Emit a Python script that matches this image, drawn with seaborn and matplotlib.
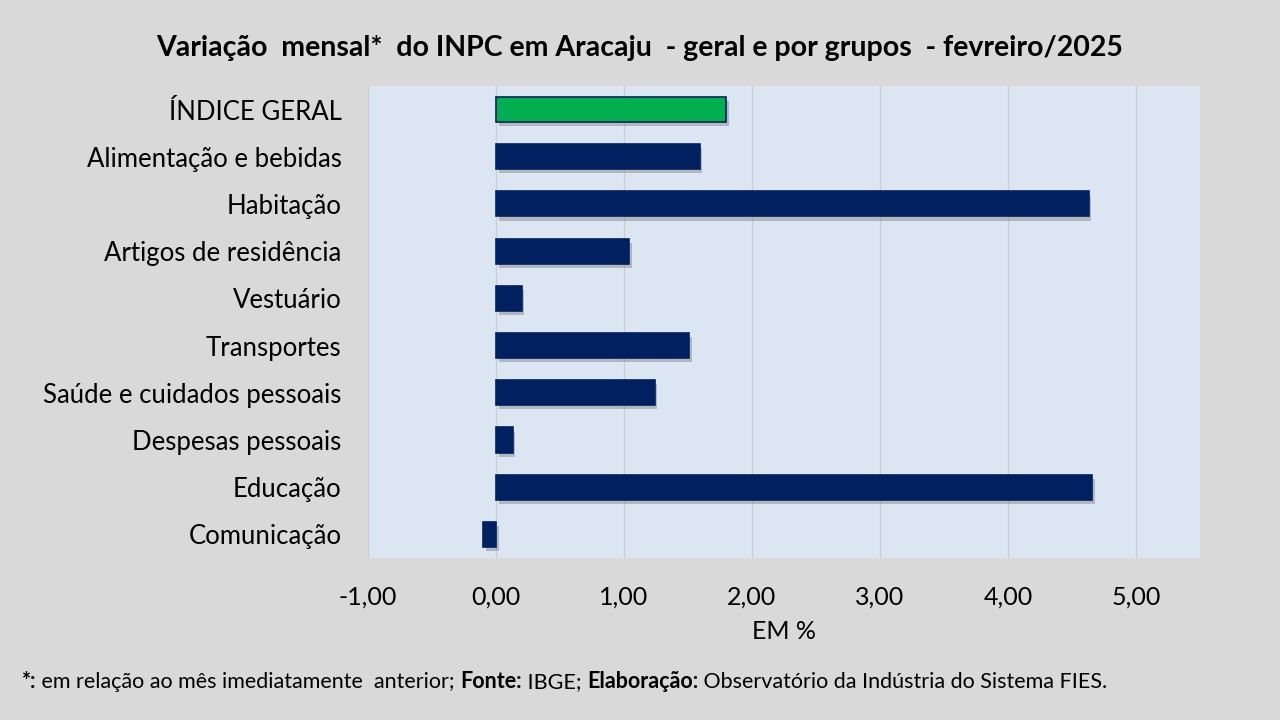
import pandas as pd
import matplotlib
matplotlib.use("Agg")
import matplotlib.pyplot as plt
import matplotlib.patheffects as pe
import seaborn as sns

# dados (variação mensal em %)
categorias = ["ÍNDICE GERAL", "Alimentação e bebidas", "Habitação", "Artigos de residência",
              "Vestuário", "Transportes", "Saúde e cuidados pessoais", "Despesas pessoais",
              "Educação", "Comunicação"]
valores = [1.80, 1.59, 4.63, 1.04, 0.20, 1.51, 1.24, 0.13, 4.66, -0.10]
tipo = ["geral"] + ["grupo"] * 9
xticks = [-1, 0, 1, 2, 3, 4, 5]

df = pd.DataFrame({"categoria": categorias, "valor": valores, "tipo": tipo})

sns.set_style("white")
plt.rcParams["font.family"] = ["Lato", "DejaVu Sans"]
plt.rcParams["text.color"] = "black"
plt.rcParams["xtick.color"] = "black"
plt.rcParams["ytick.color"] = "black"
plt.rcParams["axes.labelcolor"] = "black"

fig = plt.figure(figsize=(12.8, 7.2), dpi=100, facecolor="#d9d9d9")
ax = fig.add_axes([0.2875, 0.225, 0.65, 0.6556])
ax.set_facecolor("#dce6f2")

sns.barplot(data=df, x="valor", y="categoria", hue="tipo", orient="h",
            palette={"geral": "#00b050", "grupo": "#002060"}, width=0.53,
            saturation=1, dodge=False, legend=False, ax=ax, zorder=3)

# borda e sombra nas barras
for bar in ax.patches:
    bar.set_edgecolor("#002060")
    bar.set_linewidth(1.2)
    bar.set_path_effects([pe.SimplePatchShadow(offset=(2, -3), shadow_rgbFace="#7f7f7f", alpha=0.45),
                          pe.Normal()])

ax.set_xlim(-1, 5.5)
ax.set_ylim(9.5, -0.5)
ax.set_xticks(xticks)
ax.set_xticklabels([f"{v:.2f}".replace(".", ",") for v in xticks])
ax.tick_params(axis="y", labelsize=18.5, pad=19, length=0)
ax.tick_params(axis="x", labelsize=18, pad=20, length=0)
ax.xaxis.grid(True, color="#cdcdcd", linewidth=1.0, zorder=0)
ax.set_axisbelow(True)
for s in ax.spines.values():
    s.set_visible(False)
ax.set_ylabel("")
ax.set_xlabel("EM %", fontsize=18, labelpad=8)

fig.text(0.5, 0.933, "Variação  mensal*  do INPC em Aracaju  - geral e por grupos  - fevreiro/2025",
         ha="center", va="center", fontsize=20.5, fontweight="bold")

# nota de rodapé com partes em negrito, encadeadas
partes = [("*:", "bold"), (" em relação ao mês imediatamente  anterior; ", "normal"),
          ("Fonte:", "bold"), (" IBGE; ", "normal"), ("Elaboração:", "bold"),
          (" Observatório da Indústria do Sistema FIES.", "normal")]
prev = fig.text(0.017, 0.045, partes[0][0], fontsize=15.5, fontweight=partes[0][1])
for texto, peso in partes[1:]:
    prev = ax.annotate(texto, xy=(1, 0), xycoords=prev, fontsize=15.5, fontweight=peso,
                       va="bottom", ha="left", annotation_clip=False)

fig.savefig("out.png", dpi=100, facecolor=fig.get_facecolor())
